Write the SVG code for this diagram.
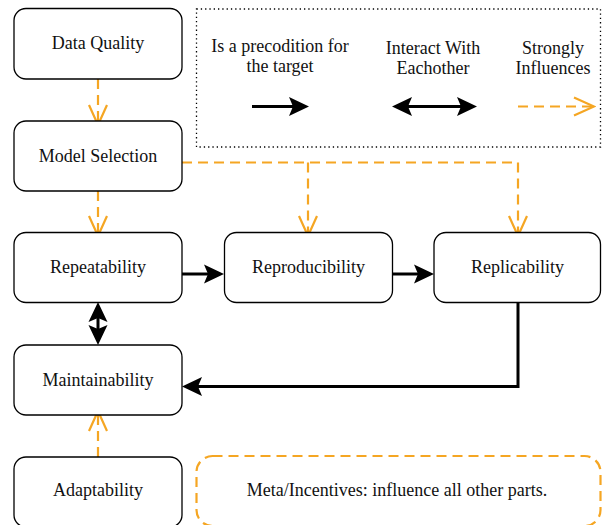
<svg xmlns="http://www.w3.org/2000/svg" width="602" height="525" viewBox="0 0 602 525">
<style>
.box{fill:#fff;stroke:#000;stroke-width:1.3}
.lbl{font-family:'Liberation Serif','DejaVu Serif',serif;font-size:18px;fill:#111;text-anchor:middle}
.solid{fill:none;stroke:#000;stroke-width:3}
.dash{fill:none;stroke:#F5A623;stroke-width:2.2;stroke-dasharray:10 6}
</style>
<defs>
<marker id="filled" markerUnits="userSpaceOnUse" viewBox="-1 -11 23 22" markerWidth="23" markerHeight="22" refX="4" refY="0" orient="auto-start-reverse">
<path d="M0,-9.5 L20,0 L0,9.5 L4,0 Z" fill="#000"/>
</marker>
<marker id="open" markerUnits="userSpaceOnUse" viewBox="-2 -11 24 22" markerWidth="24" markerHeight="22" refX="20" refY="0" orient="auto">
<path d="M0,-9 L20,0 L0,9" fill="none" stroke="#F5A623" stroke-width="2.2"/>
</marker>
</defs>
<rect id="legend" x="196.5" y="9" width="404" height="138" fill="none" stroke="#000" stroke-width="1.3" stroke-dasharray="1.3 3"/>
<g id="legend-items" font-family="Liberation Serif, DejaVu Serif, serif">
<text class="lbl" x="280" y="52">Is a precodition for</text>
<text class="lbl" x="280" y="72">the target</text>
<text class="lbl" x="433" y="54">Interact With</text>
<text class="lbl" x="433" y="74">Eachother</text>
<text class="lbl" x="553" y="54">Strongly</text>
<text class="lbl" x="553" y="74">Influences</text>
<path class="solid" d="M252,106.5 H293" marker-end="url(#filled)"/>
<path class="solid" d="M408,106.5 H461" marker-start="url(#filled)" marker-end="url(#filled)"/>
<path class="dash" d="M518,106.5 H594" marker-end="url(#open)"/>
</g>
<g id="connectors">
<path class="dash" d="M98,79 V125" marker-end="url(#open)"/>
<path class="dash" d="M98,191 V236" marker-end="url(#open)"/>
<path class="dash" d="M182,162.5 H518 V236" marker-end="url(#open)"/>
<path class="dash" d="M308,162.5 V236" marker-end="url(#open)"/>
<path class="solid" d="M182,274 H208" marker-end="url(#filled)"/>
<path class="solid" d="M392.5,274 H418" marker-end="url(#filled)"/>
<path class="solid" d="M518,302.5 V386.5 H198" marker-end="url(#filled)"/>
<path class="solid" d="M98,318 V329" marker-start="url(#filled)" marker-end="url(#filled)"/>
<path class="dash" d="M98,457 V411" marker-end="url(#open)"/>
</g>
<g id="data-quality"><rect class="box" x="14" y="8.5" width="168" height="70.5" rx="12"/><text class="lbl" x="98" y="49">Data Quality</text></g>
<g id="model-selection"><rect class="box" x="14" y="121" width="168" height="70" rx="12"/><text class="lbl" x="98" y="162">Model Selection</text></g>
<g id="repeatability"><rect class="box" x="14" y="232.5" width="168" height="70" rx="12"/><text class="lbl" x="98" y="273">Repeatability</text></g>
<g id="reproducibility"><rect class="box" x="224.5" y="232.5" width="168" height="70" rx="12"/><text class="lbl" x="308.5" y="273">Reproducibility</text></g>
<g id="replicability"><rect class="box" x="434" y="232.5" width="166.5" height="70" rx="12"/><text class="lbl" x="517.5" y="273">Replicability</text></g>
<g id="maintainability"><rect class="box" x="14" y="345" width="168" height="70" rx="12"/><text class="lbl" x="98" y="386">Maintainability</text></g>
<g id="adaptability"><rect class="box" x="14" y="457" width="168" height="70" rx="12"/><text class="lbl" x="98" y="496">Adaptability</text></g>
<g id="meta"><rect x="196.5" y="456" width="404" height="70" rx="16" fill="none" stroke="#F5A623" stroke-width="2.2" stroke-dasharray="10 6"/><text class="lbl" x="397" y="496">Meta/Incentives: influence all other parts.</text></g>
</svg>
